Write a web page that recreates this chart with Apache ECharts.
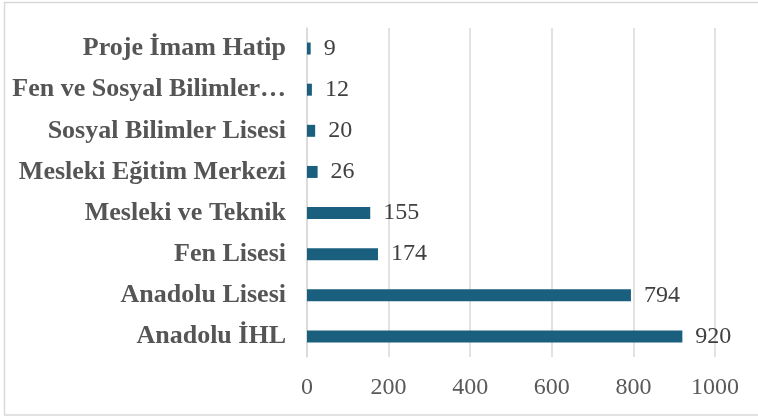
<!DOCTYPE html>
<html><head><meta charset="utf-8">
<script src="https://cdn.jsdelivr.net/npm/echarts@6/dist/echarts.min.js"></script>
<style>html,body{margin:0;padding:0;background:#fff}#c{width:758px;height:419px}</style>
</head><body><div id="c"></div>
<script>
const categories = ['Anadolu İHL','Anadolu Lisesi','Fen Lisesi','Mesleki ve Teknik','Mesleki Eğitim Merkezi','Sosyal Bilimler Lisesi','Fen ve Sosyal Bilimler…','Proje İmam Hatip'];
const values = [920, 794, 174, 155, 26, 20, 12, 9];
const xTicks = [0, 200, 400, 600, 800, 1000];

const chart = echarts.init(document.getElementById('c'), null, {renderer:'canvas'});
const serif = '"Liberation Serif", "DejaVu Serif", serif';
chart.setOption({
  animation:false,
  graphic:[{type:'rect', shape:{x:4.5,y:2.5,width:800,height:412.5}, style:{fill:'none', stroke:'#d9d9d9', lineWidth:1.5}, silent:true}],
  grid:{left:307, right:43, top:28, bottom:62, containLabel:false},
  xAxis:{type:'value', min:xTicks[0], max:xTicks[xTicks.length-1], interval:200,
    axisLine:{show:false}, axisTick:{show:false},
    splitLine:{lineStyle:{color:'#d9d9d9', width:1.5}},
    axisLabel:{color:'#595959', fontFamily:serif, fontSize:24, margin:19, formatter:(v)=>String(v)}},
  yAxis:{type:'category', data:categories,
    axisLine:{lineStyle:{color:'#d9d9d9', width:1.5}}, axisTick:{show:false},
    axisLabel:{color:'#555555', fontFamily:serif, fontSize:26, fontWeight:'bold', margin:21}},
  series:[{type:'bar', data:values, barWidth:12,
    itemStyle:{color:'#1b5f7f'},
    label:{show:true, position:'right', distance:13, color:'#404040', fontFamily:serif, fontSize:24}}]
});
</script></body></html>
